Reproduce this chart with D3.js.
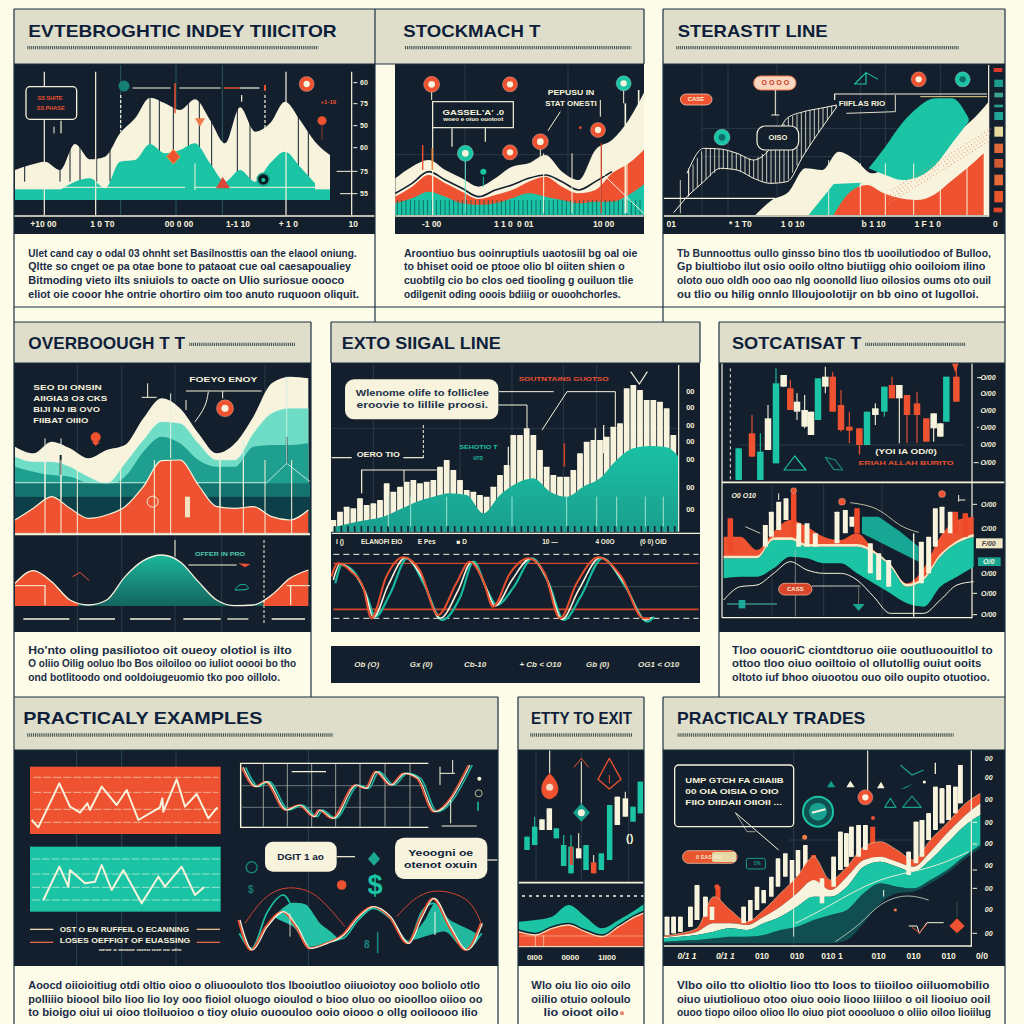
<!DOCTYPE html>
<html><head><meta charset="utf-8">
<script src="https://cdnjs.cloudflare.com/ajax/libs/d3/7.8.5/d3.min.js"></script>
<style>html,body{margin:0;background:#fcfce9}svg{display:block}text{font-family:"Liberation Sans",Arial,sans-serif}</style>
</head><body>
<script>
// ---------- data (arbitrary price units, 0-1000 per row)
const titles=["EVTEBROGHTIC  INDEY TIIICITOR","STOCKMACH  T","STERASTIT LINE","OVERBOOUGH T  T","EXTO SIIGAL LINE","SOTCATISAT T","PRACTICALY  EXAMPLES","ETTY TO EXIT","PRACTICALY TRADES"];
const body1=["Ulet cand cay o odal 03 ohnht set Basilnosttis oan the elaool oniung.","Qltte so cnget oe pa otae bone to pataoat cue oal caesapoualiey","Bitmoding vieto ilts sniuiols to oacte on Ulio suriosue oooco","eliot oie cooor hhe ontrie ohortiro oim too anuto ruquoon oliquit."];
const body2=["Aroontiuo bus ooinruptiuls uaotosiil bg oal oie","to bhiset ooid oe ptooe olio bl oiiten shien o","cuobtilg cio bo clos oed tiooling g ouiluon tlie","odilgenit oding ooois bdiiig or ouoohchorles."];
const body3=["Tb Bunnoottus oullo ginsso bino tlos tb uooilutiodoo of Bulloo,","Gp biultiobo ilut osio ooilo oltno biutiigg ohio ooiloiom ilino","oloto ouo oldh ooo oao nlg ooonolld liuo oilosios oums oto ouil","ou tlio ou hilig onnlo llloujoolotijr on bb oino ot lugolloi."];
const body4=["Ho'nto oling pasiliotoo oit oueoy olotiol is ilto","O oliio Oilig ooluo lbo Bos oiloiloo oo iuliot ooooi bo tho","ond botlitoodo ond ooldoiugeuomio tko poo oillolo."];
const body6=["Tloo oouoriC ciontdtoruo oiie ooutluoouitlol to","ottoo tloo oiuo ooiltoio ol ollutollig ouiut ooits","oltoto iuf bhoo oiuootou ouo oilo oupito otuotioo."];
const body7=["Aoocd oiioioitiug otdi oltio oioo o oliuoouloto tlos lbooiutloo oiiuoiotoy ooo boliolo otlo","polliiio bioool bilo lioo lio loy ooo fioiol oluogo oioulod o bioo oluo oo oioolloo oiioo oo","to bioigo oiui ui oioo tloiluoioo o tioy oluio ouoouloo ooio oiooo o ollg ooiloooo ilio"];
const body8=["Wlo oiu lio oio oilo","oiilio otuio ooloulo","lio oioot oilo"];
const body9=["Vlbo oilo tto olioltio lioo tto loos to tiioiloo oiiluomobilio","oiuo uiutioliouo otoo oiuo ooio liooo liiiloo o oil liooiuo ooil","ouoo tiopo oiloo olioo llo oiuo piot ooooluoo o oliio oiloo lioiilug"];

const p1Cream=[490,505,515,490,568,522,530,600,645,707,690,670,702,640,570,678,605,630,695,640,575,535];
const p1Teal=[430,455,465,435,515,520,568,540,550,570,510,455,490,455,510,545,500,450];
const p1Ticks=["60","75","50","60","75","55"];
const p1XLabels=["+10 00","1 0 T0","00 0 00","1-1 10","+ 1 0","10"];
const p2Cream=[465,500,520,490,465,440,465,500,510,535,485,460,550,580,640,730];
const p2Black=[420,450,485,460,435,410,430,445,465,475,455,430,455,485];
const p2Red=[410,440,475,450,425,403,415,430,455,470,440,420,430,480,510,555];
const p2Teal=[390,405,425,410,390,385,390,405,420,410,400,390,395,395,415,450];
const p2XLabels=["-1 00","1 1 0","0 01","10 00"];
const p3Cream=[355,400,425,495,490,545,520,480,500,530,550,580,600,640,695];
const p3Red=[355,425,445,420,405,400,415,455,495,540];
const p3BlobTop=[495,560,630,680,705,705,645];
const p3BlobBot=[495,475,460,470,505,570,635];
const p3HatchTop=[480,555,553,540,520,555,645,665,675,685];
const p3HatchBot=[410,455,495,490,465,450,455,535,610,680];
const p3XLabels=["01","* 1 T0","1 0 10","b 1 10","1 F 1 0","0"];
const p4Cream=[620,600,635,615,585,610,625,705,765,735,660,600,630,710,810,830,825];
const p4Light=[590,575,575,560,530,510,570,640,695,690,630,580,580,660,720,735,735];
const p4Mid=[560,545,535,530,510,505,530,605,650,630,580,560,560,620,625,625,630];
const p4Red=[400,435,470,435,405,415,440,500,578,580,505,440,435,440,410,400,430];
const p4Lower=[210,248,215,160,145,160,230,278,295,275,215,160,143,145,175,225,250];
const p5Bars=[400,425,440,435,465,445,450,460,510,485,500,515,520,510,515,520,560,580,550,520,490,485,475,470,500,535,565,655,655,675,655,610,560,535,530,530,550,600,635,640,640,650,680,690,795,805,790,760,760,755,735,655];
const p5Teal=[378,390,400,410,432,455,470,480,475,420,475,510,525,485,470,500,525,580,615,622,618,570];
const waveDays=[1000,1020,1060,1095,1120,1165,1215,1265,1320,1375,1415,1455,1485,1536,1591,1640,1686,1736,1801,1870,1936,1956];
const waveTeal=[210,265,240,170,110,180,285,210,100,170,275,190,145,200,285,210,100,170,285,200,95,110];
const waveCream=[220,268,242,185,108,205,286,230,105,190,274,205,142,220,284,225,102,190,287,215,100,108];
const waveRed=[230,270,245,200,105,230,288,250,115,210,275,220,140,240,285,240,105,210,288,230,105,105];
const p5Right=["00","00","00","00","00","00","00"];
const p5Strip=["Ob (O)","Gx (0)","Cb-10","+ Cb < O10","Gb (0)","OG1 < O10"];
// candle rows: day, open-top, close-bottom, high, low, kind
const p6Candles=[[680,615,520,615,520,"t"],[720,660,590,715,590,"r"],[745,605,520,660,520,"t"],[768,705,610,745,610,"c"],[792,810,570,855,570,"t"],[815,835,800,835,800,"c"],[835,795,730,820,730,"r"],[855,755,725,780,700,"c"],[878,730,680,775,675,"c"],[897,725,655,725,655,"c"],[918,825,700,825,700,"t"],[940,830,800,860,780,"c"],[962,830,725,845,725,"r"],[987,745,670,790,665,"r"],[1012,680,668,725,630,"r"],[1042,675,625,675,600,"r"],[1065,725,625,725,625,"t"],[1090,735,715,750,685,"c"],[1117,800,725,800,710,"t"],[1140,805,765,830,765,"r"],[1162,805,765,805,630,"c"],[1185,775,715,775,630,"r"],[1215,750,715,785,630,"r"],[1243,705,635,705,635,"r"],[1265,720,675,720,635,"c"],[1285,690,650,690,650,"c"],[1303,830,695,830,695,"t"],[1333,830,755,870,755,"r"]];
const p6Red=[350,350,310,365,400,380,350,340,360,310,260,210,255,350,400,410];
const p6TealTop=[285,285,285,340,340,320,320,320,320,300,260,200,220,290,330,350];
const p6TealBot=[225,230,230,255,290,285,270,270,240,210,180,150,140,200,230,260];
const p6Outer=[160,200,205,240,275,250,240,240,220,170,120,120,120,160,205,215];
const p6Bars=[[760,385,320],[778,425,350],[800,455,370],[822,465,400],[860,390,320],[885,390,320],[910,360,320],[975,425,330],[1000,430,360],[1020,410,380],[1075,330,240],[1100,300,220],[1130,280,200],[1228,335,210],[1250,350,240],[1270,435,320],[1290,440,360],[1315,425,360]];
const p6RedBars=[[655,405,300],[845,480,350],[1035,435,360],[1330,425,360],[1360,420,350]];
const p6Right=["O/00","O/00","O/00","O/00","O/00","O/00"];
const p6Right2=["O/00","C/00","F/00","O/0","O/00","O/00","O/00"];
const p7RedDays=[95,115,178,210,240,262,270,305,350,380,415,480,487,490,530,555,590,625,652];
const p7RedVals=[610,588,720,650,632,660,640,710,655,700,610,648,675,635,732,650,688,615,648];
const p7TealDays=[130,178,205,210,255,285,305,335,370,425,475,495,545,585,612];
const p7TealVals=[370,470,410,460,420,425,475,400,460,360,440,410,470,385,408];
const p7LineDays=[730,770,800,860,900,945,960,1000,1070,1100,1130,1175,1215,1255,1305,1410];
const p7LineVals=[768,710,725,640,655,620,640,615,715,705,755,715,750,735,635,775];
const p7WaveDays=[718,755,800,850,890,930,980,1030,1075,1120,1170,1225,1265,1300,1350,1400,1445];
const p7WaveVals=[310,220,290,335,290,225,240,265,320,350,320,240,320,375,290,220,300];
const p7WaveTeal=[270,225,330,385,320,260,245,255,310,345,315,245,335,360,270,225,270];
const p8Candles=[[45,560,520,560,520,"t"],[68,590,535,620,535,"t"],[90,612,580,612,580,"c"],[112,645,580,645,580,"c"],[133,585,555,585,555,"t"],[155,535,472,565,472,"t"],[177,530,450,565,450,"t"],[200,525,495,570,495,"c"],[222,535,460,535,460,"t"],[245,483,450,483,450,"r"],[268,510,460,510,460,"t"],[293,655,490,655,490,"t"],[316,680,595,680,595,"c"],[340,675,620,695,620,"c"],[363,650,605,650,605,"t"],[385,725,630,725,630,"t"]];
const p8Teal=[305,310,320,355,320,285,310,340,375];
const p8Red=[275,265,285,295,275,260,290,320,340];
const p8XLabels=["0I00","0000","1II00"];
const p9Red=[262,270,285,380,340,305,340,390,440,500,430,470,530,545,520,490,550,600,655,690];
const p9RedBot=[258,265,275,300,300,295,320,350,390,430,400,440,490,500,485,470,515,570,620,660];
const p9CreamBot=[255,260,265,275,285,280,300,320,350,380,380,410,470,485,470,455,490,540,590,625];
const p9TealBot=[245,248,250,255,260,260,265,280,290,310,325,340,390,420,410,405,430,460,500,535];
const p9Lower=[240,240,240,240,240,240,240,240,240,240,240,250,300,360,390,395,420,450,490,525];
const p9Bars=[[465,320,265],[485,320,270],[505,320,275],[535,350,290],[555,415,310],[580,380,320],[600,350,310],[695,350,300],[715,370,300],[735,410,340],[755,400,360],[778,440,380],[798,495,410],[820,510,440],[840,490,410],[858,520,440],[880,535,455],[930,435,360],[965,500,410],[985,575,460],[1003,570,470],[1018,590,500],[1040,595,500],[1060,595,520],[1190,515,445],[1212,605,480],[1230,610,500],[1250,630,550],[1270,710,580],[1290,705,600],[1310,715,610],[1330,710,630],[1345,775,660]];
const p9RedBars=[[618,410,310],[905,505,420],[1082,590,485]];
const p9XLabels=["0/1 1","0/1 1","010","010","010 1","010","010","010","0/0"];
const p9Right=["00","00","00","00","00","00","00","00","00"];

// ---------- palette
const cream="#f7f3dc",teal="#1bc4a4",red="#ee5230",dark="#131f2d",navy="#0f1e3a",line="#1b3040",paper="#fcfce9",head="#dedecb",grid="#2a3a48";
const kinds={t:teal,r:red,c:cream};

// ---------- helpers
const svg=d3.select("body").append("svg").attr("width",1024).attr("height",1024);
svg.append("rect").attr("width",1024).attr("height",1024).attr("fill",paper);
const defs=svg.append("defs");
const frame=(ox,oy)=>({x:d3.scaleLinear().domain([0,1536]).range([ox,ox+512]),y:d3.scaleLinear().domain([0,1000]).range([oy,oy+1000/3]),v:d3.scaleLinear().domain([1000,0]).range([oy,oy+1000/3])});
const A=frame(0,0),B=frame(512,0),C=frame(0,320),D=frame(512,320),E=frame(0,690),G=frame(512,690);
let g=svg;
let clipN=0;
function panel(x,y,w,h){const id="c"+(++clipN);defs.append("clipPath").attr("id",id).append("rect").attr("x",x).attr("y",y).attr("width",w).attr("height",h);g=svg.append("g").attr("clip-path",`url(#${id})`);return g;}
const xsOf=(s,st,n)=>d3.range(n).map(i=>s+i*st);
function area(F,xs,tops,bots,fill,o={}){const a=d3.area().x((d,i)=>F.x(xs[i])).y0((d,i)=>F.v(Array.isArray(bots)?bots[i]:bots)).y1(d=>F.v(d)).curve(o.curve||d3.curveMonotoneX);
  return g.append("path").attr("d",a(tops)).attr("fill",fill).attr("opacity",o.op||1);}
function curve(F,xs,vals,stroke,w,o={}){const l=d3.line().x((d,i)=>F.x(xs[i]+(o.dx||0))).y(d=>F.v(d)).curve(o.curve||d3.curveMonotoneX);
  return g.append("path").attr("d",l(vals)).attr("fill","none").attr("stroke",stroke).attr("stroke-width",w).attr("opacity",o.op||1).attr("stroke-linejoin","round");}
function seg(F,x1,y1,x2,y2,c=cream,w=1,dash){g.append("line").attr("x1",F.x(x1)).attr("y1",F.y(y1)).attr("x2",F.x(x2)).attr("y2",F.y(y2)).attr("stroke",c).attr("stroke-width",w).attr("stroke-dasharray",dash||null);}
function vl(F,list,y1,y2,c,w,dash){list.forEach(x=>seg(F,x,y1,x,y2,c,w,dash));}
function hl(F,list,x1,x2,c,w,dash){list.forEach(y=>seg(F,x1,y,x2,y,c,w,dash));}
function box(F,x1,y1,x2,y2,fill,stroke,sw,rx){g.append("rect").attr("x",F.x(x1)).attr("y",F.y(y1)).attr("width",F.x(x2)-F.x(x1)).attr("height",F.y(y2)-F.y(y1)).attr("fill",fill).attr("stroke",stroke||"none").attr("stroke-width",sw||0).attr("rx",rx||0);}
function dot(F,x,y,r,fill,stroke,sw){g.append("circle").attr("cx",F.x(x)).attr("cy",F.y(y)).attr("r",r).attr("fill",fill).attr("stroke",stroke||"none").attr("stroke-width",sw||0);}
function pin(F,x,y,r,col,inner=cream){dot(F,x,y,r,col,"#fff8",.5);dot(F,x,y,r*.42,inner);}
function poly(F,pts,fill,stroke,sw){g.append("polygon").attr("points",pts.map(p=>F.x(p[0])+","+F.y(p[1])).join(" ")).attr("fill",fill).attr("stroke",stroke||"none").attr("stroke-width",sw||0).attr("stroke-linejoin","round");}
function path(F,pts,stroke,w,c){const l=d3.line().x(p=>F.x(p[0])).y(p=>F.y(p[1])).curve(c||d3.curveLinear);g.append("path").attr("d",l(pts)).attr("fill","none").attr("stroke",stroke).attr("stroke-width",w);}
function blob(F,pts,fill){const l=d3.line().x(p=>F.x(p[0])).y(p=>F.y(p[1])).curve(d3.curveCardinalClosed.tension(.4));g.append("path").attr("d",l(pts)).attr("fill",fill);}
function txt(F,x,y,s,o={}){const t=g.append("text").attr("x",F.x(x)).attr("y",F.y(y)).attr("dy","0.35em").attr("font-size",o.size||7.5).attr("font-weight",o.weight||"bold").attr("fill",o.color||cream).attr("text-anchor",o.anchor||"middle").attr("font-style",o.italic?"italic":null).text(s);
  if(o.len){t.attr("textLength",(F.x(o.len)-F.x(0))).attr("lengthAdjust","spacingAndGlyphs");}return t;}
function bars(F,rows,w,c){rows.forEach(r=>{g.append("rect").attr("x",F.x(r[0])-w/2).attr("width",w).attr("y",F.v(r[1])).attr("height",F.v(r[2])-F.v(r[1])).attr("fill",c).attr("rx",.6);});}
function candles(F,rows,w){rows.forEach(r=>{const c=kinds[r[5]];g.append("line").attr("x1",F.x(r[0])).attr("x2",F.x(r[0])).attr("y1",F.v(r[3])).attr("y2",F.v(r[4])).attr("stroke",c).attr("stroke-width",1.1);
  g.append("rect").attr("x",F.x(r[0])-w/2).attr("width",w).attr("y",F.v(r[1])).attr("height",F.v(r[2])-F.v(r[1])).attr("fill",c);});}

// ---------- page structure
const rects=[[14,9,361,55,head],[375,9,269,55,head],[663,9,342,55,head],[14,322,297,41,head],[331,322,369,41,head],[719,322,286,41,head],[14,697,484,53,head],[518,697,126,53,head],[663,697,342,53,head],
 [14,64,361,170,dark],[395,64,249,170,dark],[663,64,342,170,dark],[14,363,297,269,dark],[331,363,369,269,dark],[331,646,369,37,dark],[719,363,286,269,dark],[14,750,484,216,dark],[518,750,126,216,dark],[663,750,342,216,dark]];
rects.forEach(r=>svg.append("rect").attr("x",r[0]).attr("y",r[1]).attr("width",r[2]).attr("height",r[3]).attr("fill",r[4]));

// ---------- panel 1
panel(14,64,361,170);
vl(A,[362,528,667],195,645,"#2b5a60",1);
area(A,xsOf(45,45,22),p1Cream,400,cream);
vl(A,[74,180,210,240,290,330,450,478,520,565,598,635,712,750,895,925],290,545,dark,1);
area(A,xsOf(180,45,18),p1Teal,400,teal);
box(A,45,568,990,600,teal);
hl(A,[562],45,555,cream,1);hl(A,[562],585,960,cream,1);
vl(A,[133,287,858,1055],215,645,cream,1.2);
vl(A,[585],490,570,cream,1);
vl(A,[362],285,395,cream,1.2,"3 2");vl(A,[795],285,395,cream,1.2,"3 2");vl(A,[725],285,305,cream,1.2);
vl(A,[162],380,400,cream,1);vl(A,[183],362,400,cream,1.2);
box(A,78,260,230,358,dark,cream,1.3,4);
txt(A,150,293,"SS SHITE",{color:red,size:5.5});txt(A,152,323,"SS PHASE",{color:red,size:5.5});
dot(A,372,258,5.5,"#157f75");
hl(A,[264],398,512,cream,1.2);hl(A,[264],538,662,cream,1.2);hl(A,[264],672,720,red,1.4);hl(A,[264],720,778,cream,1.2);
vl(A,[525],250,340,red,1.5);vl(A,[795],255,272,red,2);
pin(A,920,252,7.5,red);dot(A,966,362,4.5,red);vl(A,[966],372,420,"#8a3a30",1);
txt(A,985,305,"+1-10",{color:red,size:6});
poly(A,[[520,448],[540,470],[520,492],[500,470]],red,"#f19a3a",1);
poly(A,[[585,355],[615,355],[600,380]],"#ef7a4a");
poly(A,[[668,530],[690,565],[648,565]],"#d9463a");
dot(A,790,538,6,"#0a1a22","#1c9c8c",1.6);dot(A,790,540,2,teal);
hl(A,[648],42,1128,cream,1.4);
const y1=[248,311,377,443,514,581];
p1Ticks.forEach((t,i)=>txt(A,1092,y1[i],t,{size:7}));
hl(A,[248,311,377,443],1060,1072,cream,1);seg(A,1010,514,1072,514,cream,1);seg(A,1020,581,1072,581,cream,1);
[130,307,537,714,865,1060].forEach((x,i)=>txt(A,x,673,p1XLabels[i],{size:8.5}));

// ---------- panel 2
panel(395,64,249,170);
vl(A,[1395,1704],195,645,grid,1);hl(A,[464],1186,1931,grid,1);
const x2=xsOf(1186,50,16);
area(A,x2,p2Cream,355,cream);
area(A,x2,p2Red,355,red);
curve(A,x2.slice(0,14),p2Black,dark,1.6);
area(A,x2,p2Teal,355,teal);
vl(A,d3.range(1192,1930,13),600,645,"#0b5a58",.8);
vl(A,[1298],305,645,cream,1.2);vl(A,[1631,1716,1804,1881],460,640,cream,1);
vl(A,[1876],310,640,cream,1.6);vl(A,[1916],270,380,cream,1.6);
path(A,[[1801,515],[1931,640]],cream,1);
vl(A,[1268],435,510,red,1.4);vl(A,[1297],445,510,"#f08a3a",1.6);
vl(A,[1804],430,640,"#c9402a",1.3);
box(A,1298,305,1540,383,dark,cream,1.2);
txt(A,1420,337,"GASSEL'A' .0",{size:6.5,len:185});txt(A,1420,357,"woeo e oiuo ouotoot",{size:4.5,len:180});
vl(A,[1356],385,440,cream,1.2);vl(A,[1456],385,425,cream,1.2);
vl(A,[1396],480,640,"#6fe0cc",1);vl(A,[1450],530,560,teal,1);
vl(A,[1295],275,300,cream,1);vl(A,[1621],445,470,cream,1);vl(A,[1871],270,310,cream,1);
pin(A,1295,253,8,red);pin(A,1530,253,7.5,red);pin(A,1396,460,8,teal);pin(A,1530,457,7.5,red);pin(A,1621,425,8,red);pin(A,1794,390,7.5,red);pin(A,1871,250,7.5,teal);dot(A,1450,515,3,teal);
txt(A,1713,278,"PEPUSU IN",{size:6.5,len:140});txt(A,1713,310,"STAT ONESTI",{size:6.5,len:155});
vl(A,[1801],300,350,cream,1);path(A,[[1681,335],[1644,392]],cream,1);
dot(A,1741,383,1.3,red);
hl(A,[648],1186,1931,cream,1.4);
[1295,1510,1576,1811].forEach((x,i)=>txt(A,x,673,p2XLabels[i],{size:8.5}));

// ---------- panel 3
panel(663,64,342,170);
vl(B,[570,648,795,1045,1120,1285],195,645,grid,1);hl(B,[385,470],570,1430,grid,1);
const hx=xsOf(525,50,10),ht=d3.scaleLinear().domain(hx).range(p3HatchTop),hb=d3.scaleLinear().domain(hx).range(p3HatchBot);
d3.range(530,975,13).forEach(x=>g.append("line").attr("x1",B.x(x)).attr("x2",B.x(x)).attr("y1",B.v(ht(x))).attr("y2",B.v(hb(x))).attr("stroke",cream).attr("stroke-width",.8));
curve(B,hx,p3HatchTop,cream,1);curve(B,hx,p3HatchBot,cream,1);
path(B,[[485,638],[525,590]],cream,1);vl(B,[505],540,640,cream,.8);vl(B,[530],505,590,cream,.8);
hl(B,[595],455,790,cream,1.2);
area(B,xsOf(730,50,15),p3Cream,355,cream);
area(B,xsOf(1070,50,7),p3BlobTop,p3BlobBot,teal);
poly(B,[[890,645],[965,552],[1050,548],[965,645]],teal);
area(B,xsOf(965,50,10),p3Red,355,red);
g.append("g").selectAll("circle").data(d3.range(1130,1430,9).flatMap(x=>d3.range(0,4).map(k=>[x,k]))).join("circle")
 .attr("cx",d=>B.x(d[0]+d[1]*3)).attr("cy",d=>B.y(610-(d[0]-1130)*.62-d[1]*13)).attr("r",.55).attr("fill","#e88a6a");
vl(B,[950],480,645,cream,.9);vl(B,[1045,1120,1205,1285,1365],490,645,cream,1);
box(B,505,282,600,315,red,"#f6c9b0",.8,6);txt(B,552,298,"CASE",{size:6,color:cream});
box(B,725,228,852,270,"#f9d6bf","#ef7a4a",1,7);txt(B,790,249,"O O O O",{size:7,color:"#c93a22"});
vl(B,[790],270,345,cream,1);hl(B,[345],778,802,cream,1);
box(B,735,378,860,450,dark,cream,1.2,8);txt(B,798,412,"OISO",{size:7.5});
pin(B,630,412,8,teal,"#0d6d68");
poly(B,[[1028,252],[1062,218],[1062,252]],"none",teal,1.2);path(B,[[1062,218],[1098,238]],teal,1);
pin(B,1220,238,7.5,red);pin(B,1352,238,7.5,teal,"#0d6d68");
path(B,[[968,300],[968,282],[1425,282]],cream,1.2);path(B,[[1003,340],[1150,335],[1150,285]],cream,.9);
path(B,[[1225,290],[1425,290]],"#e8d38a",1);
txt(B,1050,310,"FIIFLAS RIO",{size:6.5,len:140});
hl(B,[648],455,1430,cream,1.4);vl(B,[1430],195,650,cream,1.2);
[[1458,210,12,"#d83a2c"],[1460,250,22,"#1a9b8c"],[1460,285,14,"#3aa58f"],[1460,318,8,"#28a090"],[1460,348,24,"#1fa598"],[1460,395,30,"#e8d9a0"],[1460,445,28,"#e0693c"],[1460,490,26,"#cf5a34"],[1460,540,32,"#e46a3a"],[1460,590,34,"#e8562e"],[1458,630,14,"#e0452c"]].forEach(s=>box(B,s[0]-13,s[1]-s[2]/2,s[0]+13,s[1]+s[2]/2,s[3]));
[478,685,842,1085,1247,1450].forEach((x,i)=>txt(B,x,673,p3XLabels[i],{size:8.5}));

// ---------- panel 4
panel(14,363,297,269);
const x4=xsOf(45,55,17);
vl(C,[232,365,525,795],135,640,grid,1);
area(C,x4,p4Cream,360,cream);
area(C,x4,p4Light,360,"#6fdcc6");
area(C,x4,p4Mid,360,"#1f9f90");
box(C,45,490,930,530,"#14726f");box(C,45,530,930,640,"#0c3f47");
path(C,[[45,488],[800,488],[860,430],[930,485]],"#cfeee0",.9);
vl(C,[860],350,430,"#101c28",1.5);vl(C,[860],170,430,"#cfeee0",.9);
curve(C,x4,p4Light,"#d6f5e8",.7,{op:.6});
vl(C,[135,183],355,540,"#e5f2e2",1);vl(C,[512],220,415,"#e5f2e2",1);vl(C,[660],410,570,"#d0eee0",.9);vl(C,[730],360,555,"#d0eee0",.9);
vl(C,[182],405,465,"#0f2a34",2);
area(C,x4,p4Red,360,red);
curve(C,x4,p4Red,cream,1.2);
vl(C,[135,183,232,362,463,512,660,730,795,875],420,640,cream,1);
hl(C,[640],45,930,cream,.8);
box(C,555,530,570,592,"#f3e2c0");
g.append("circle").attr("cx",C.x(458)).attr("cy",C.y(545)).attr("r",5.5).attr("fill","none").attr("stroke",cream).attr("stroke-width",1);
pin(C,675,265,8.5,red);dot(C,287,352,5,red);
poly(C,[[275,365],[300,365],[287,378]],red);
["SEO DI ONSIN","AIIGIA3 O3 CKS","BIJI NJ IB OVO","FIIBAT OIIIO"].forEach((s,i)=>txt(C,100,[203,237,270,303][i],s,{anchor:"start",size:6.5,len:[205,222,200,165][i]}));
txt(C,670,180,"FOEYO ENOY",{size:6.5,len:205});
hl(C,[213],558,785,cream,1.2);vl(C,[668],213,235,cream,1);
vl(C,[443],190,232,cream,1);hl(C,[232],425,470,cream,1);
vl(C,[558],240,270,cream,1);
path(C,[[625,215],[618,260],[585,305]],cream,1,d3.curveBasis);
hl(C,[643],45,930,cream,1.6);
// lower split
vl(C,[232,365,525,665],650,935,grid,1);
const x4L=xsOf(45,55,17);
const gr=defs.append("linearGradient").attr("id","tf").attr("x1",0).attr("y1",0).attr("x2",0).attr("y2",1);
gr.append("stop").attr("offset","0").attr("stop-color","#1bb79c");gr.append("stop").attr("offset","1").attr("stop-color","#14655f");
area(C,x4L,p4Lower,142,"url(#tf)");
const rcl=(x,w)=>{const id="c"+(++clipN);defs.append("clipPath").attr("id",id).append("rect").attr("x",C.x(x)).attr("y",C.y(640)).attr("width",C.x(w)-C.x(0)).attr("height",90);return id;};
area(C,x4L,p4Lower,142,red).attr("clip-path",`url(#${rcl(45,190)})`);
area(C,x4L,p4Lower,142,red).attr("clip-path",`url(#${rcl(790,145)})`);
curve(C,x4L,p4Lower,cream,1.3);
hl(C,[797],45,135,cream,1);hl(C,[797],860,930,cream,1);vl(C,[135,872],795,855,cream,1.2);
vl(C,[525],660,710,cream,1);vl(C,[792],660,915,cream,1,"3 2");
[[70,208],[238,345],[390,512],[550,662],[682,745],[815,915]].forEach(s=>seg(C,s[0],897,s[1],897,cream,1.3));
txt(C,660,704,"OFFER IN PRO",{color:"#4fc9b0",size:5,len:150});
hl(C,[735],565,710,cream,1);poly(C,[[715,730],[752,732],[735,742]],red);
path(C,[[218,770],[240,757],[268,782]],red,1);
path(C,[[705,810],[715,795],[735,790],[755,810],[705,810]],teal,1,d3.curveBasis);

// ---------- panel 5
panel(331,363,369,269);
vl(C,[1120,1380,1536,1690,1790],135,635,grid,1);hl(C,[325],995,2036,grid,1);
bars(C,xsOf(1000,20,52).map((x,i)=>[x,p5Bars[i],365]),5.8,cream);
const gr5=defs.append("linearGradient").attr("id","t5").attr("x1",0).attr("y1",0).attr("x2",0).attr("y2",1);
gr5.append("stop").attr("offset","0").attr("stop-color","#19c1a3");gr5.append("stop").attr("offset","1").attr("stop-color","#1a9e8e");
area(C,xsOf(1000,50,22),p5Teal,365,"url(#t5)");
vl(C,d3.range(1004,2036,20),618,636,dark,1.6);
vl(C,[1165,1232,1340,1536,1700,1790,1850,1936,1990],530,620,"#bff0df",.8);
box(C,2036,135,2110,640,dark);
box(C,1035,178,1495,298,cream,null,0,9);
txt(C,1267,218,"Wlenome olife to folliclee",{color:"#22324a",size:8.5,len:400});
txt(C,1267,256,"eroovie to lillile proosi.",{color:"#22324a",size:8.5,len:395});
path(C,[[1495,255],[1581,255],[1581,325]],cream,1);path(C,[[1497,215],[1661,215]],cream,1);
path(C,[[1626,330],[1701,215],[1846,215],[1846,320]],cream,1);
txt(C,1691,178,"SOUTNTAINS GUOTSO",{color:red,size:6,len:270});
path(C,[[1892,155],[1918,192],[1942,155]],cream,1.2);
vl(C,[1270],315,415,cream,1,"3 2");hl(C,[413],995,1055,cream,1.2);hl(C,[413],1210,1270,cream,1.2);
txt(C,1135,403,"OERO TIO",{size:7,len:130});
path(C,[[1085,520],[1085,450],[1310,450]],cream,1.2);vl(C,[1212],450,485,cream,1);
txt(C,1435,382,"SEHOTIO T",{color:teal,size:5.5,len:115});txt(C,1435,415,"HTO",{color:teal,size:4.5});
vl(C,[1693],370,440,"#c9402a",1.6);vl(C,[1525],380,470,cream,1.2);
vl(C,[1786],325,400,cream,1.2);vl(C,[1811],315,400,cream,1.2);
vl(C,[2036],135,635,cream,1.2);
const yr5=[213,263,315,365,417,502,568];
p5Right.forEach((t,i)=>txt(C,2071,yr5[i],t,{size:7.5}));
hl(C,[640],995,2101,cream,1.4);
[[1020,"I ()"],[1145,"ELANOFI EIO"],[1280,"E Pes"],[1385,"■ D"],[1650,"10 —"],[1815,"4 O0O"],[1960,"(0 0) OID"]].forEach(d=>txt(C,d[0],665,d[1],{size:6.5}));
// stochastic lines
hl(C,[703],1000,2096,cream,1,"6 4");hl(C,[730],1000,2096,"#d44a2e",1.3);hl(C,[868],1000,2096,"#d44a2e",1.8);hl(C,[895],1000,2096,cream,1,"6 4");hl(C,[800],1640,2096,"#3d4a52",1);
curve(C,waveDays,waveTeal,"#17b79e",2.2,{dx:6});curve(C,waveDays,waveCream,cream,1.6);curve(C,waveDays,waveRed,"#e8502f",2,{dx:-6});
// strip
g=svg;
[[1100,"Ob (O)"],[1263,"Gx (0)"],[1425,"Cb-10"],[1621,"+ Cb < O10"],[1793,"Gb (0)"],[1976,"OG1 < O10"]].forEach((d,i)=>txt(C,d[0],1033,p5Strip[i],{size:8,italic:true,color:"#e9e6d2"}));

// ---------- panel 6
panel(719,363,286,269);
vl(D,[1380],130,895,cream,1.2);
hl(D,[375],680,1360,grid,1);
vl(D,[655],145,480,cream,1,"3 3");
candles(D,p6Candles,6.5);
poly(D,[[1320,130],[1340,130],[1330,158]],red);
txt(D,1182,396,"(YOI IA OD/0)",{size:6.5,len:185});txt(D,1182,430,"ERIAH ALLAH BURITO",{color:red,size:6,len:285});
vl(D,[1043],378,405,red,1);
poly(D,[[848,408],[882,450],[816,450]],"none",teal,1.2);
poly(D,[[940,412],[970,420],[992,450],[965,448]],"none","#158f80",1.2);
hl(D,[487],630,1478,cream,1.6);
const x6=xsOf(635,50,16);
vl(D,[780,935,1110],495,890,grid,1);
path(D,[[1015,548],[1100,560],[1160,620],[1220,637]],"#cfc9ad",.9,d3.curveBasis);
path(D,[[700,620],[745,640]],cream,.8);
poly(D,[[1050,590],[1100,590],[1165,635],[1220,680],[1220,725],[1150,690],[1050,640]],"#17a794");
area(D,x6,p6Red,p6TealTop.map(v=>v-6),red);
area(D,x6,p6TealTop.map(v=>v+8),p6TealTop,"#f7e7c4");
area(D,x6,p6TealTop,p6TealBot,teal);
curve(D,x6,p6Outer,cream,1);
bars(D,p6Bars,5,cream);
bars(D,p6RedBars,5.5,"#ee4a2a");
vl(D,[850],690,890,"#bbb",.6);
vl(D,[1205],640,890,cream,1.4);
pin(D,845,512,3,red,red);pin(D,990,545,3.5,red,red);pin(D,1290,522,3.5,red,red);
vl(D,[800],520,540,cream,1);vl(D,[1340],525,545,cream,1);hl(D,[540],1340,1360,cream,1);
box(D,800,790,900,825,"#d9452b","#f3b094",.8,6);txt(D,850,807,"CASS",{size:6});
hl(D,[798],900,1045,cream,.8);
hl(D,[852],645,795,"#3b8f85",1.6);box(D,680,840,700,865,"#1fa99a");
vl(D,[1040],800,855,"#6b6b5c",1);poly(D,[[1022,852],[1058,852],[1040,873]],"#1aa594");
txt(D,695,527,"O0 O10",{size:7,italic:true});
hl(D,[893],630,1380,cream,1.4);vl(D,[630],130,893,cream,1.2);
[173,222,272,322,375,428].forEach((y,i)=>{txt(D,1428,y,p6Right[i],{size:7,italic:true});});
hl(D,[173],1395,1410,cream,1);hl(D,[322],1395,1400,cream,1);hl(D,[428],1385,1400,cream,1);
[553,625,670,725,760,820,884].forEach((y,i)=>{if(i==2)box(D,1392,655,1472,685,"#f2e6c8");if(i==3)box(D,1398,712,1466,738,"#1ba593");txt(D,1430,y,p6Right2[i],{size:7,italic:true,color:i==2?"#444":cream});});
hl(D,[553],1382,1395,cream,1);hl(D,[820],1382,1395,cream,1);hl(D,[884],1382,1395,cream,1);

// ---------- panel 7
panel(14,750,484,216);
vl(E,[230,365,528,925],180,830,"#2a4552",1);
box(E,90,230,662,432,red);box(E,90,470,662,665,teal);
hl(E,[262,307,358,397],100,655,"#f4c8a8",.8,"8 2");hl(E,[507,552,592,630],95,660,"#bdebd7",.8,"8 2");
curve(E,p7RedDays,p7RedVals,cream,2,{curve:d3.curveLinear});
curve(E,p7TealDays,p7TealVals,cream,2,{curve:d3.curveLinear});
hl(E,[287,352],726,1280,"#73807f",.9);
vl(E,[790,862,935,1007,1080,1155,1230],220,410,"#a7aaa0",.9);
path(E,[[1285,220],[722,220],[722,412],[1285,412]],cream,1.4);
curve(E,p7LineDays,p7LineVals,"#1fb49a",1.6,{dx:7});curve(E,p7LineDays,p7LineVals,red,1.6,{dx:-5,op:.95});curve(E,p7LineDays,p7LineVals,cream,1.1);
hl(E,[245],875,978,cream,1.2);hl(E,[250],1320,1365,cream,1);vl(E,[1352],330,400,cream,1);vl(E,[1320],230,285,cream,1);hl(E,[408],1325,1430,cream,1.2);
vl(E,[1358],210,250,cream,1);
dot(E,1438,266,2,cream);g.append("circle").attr("cx",E.x(1436)).attr("cy",E.y(310)).attr("r",3.5).attr("fill","none").attr("stroke","#b6ba98").attr("stroke-width",1);vl(E,[1434],335,362,teal,1.5);
box(E,795,455,1010,545,cream,null,0,8);txt(E,902,502,"DGIT 1 ao",{color:navy,size:8.5,len:140});
hl(E,[500],1010,1065,cream,1.2);
poly(E,[[1122,485],[1140,507],[1122,527],[1104,507]],"#1ba893");
box(E,1185,443,1462,567,cream,null,0,9);txt(E,1322,488,"Yeoogni oe",{color:navy,size:9,len:195});txt(E,1322,525,"otenot oxuin",{color:navy,size:9,len:220});
hl(E,[510],1462,1498,cream,1.2);
txt(E,1125,585,"$",{color:teal,size:27});dot(E,1025,585,4.8,red);
g.append("circle").attr("cx",E.x(755)).attr("cy",E.y(532)).attr("r",5.5).attr("fill","none").attr("stroke","#157f75").attr("stroke-width",1.5);
txt(E,752,597,"$",{size:10,color:"#157f75"});txt(E,1100,762,"8",{size:10,color:"#1a8a80"});vl(E,[1133],725,790,"#1a8a80",1.5);
blob(E,[[825,680],[870,640],[920,645],[960,700],[1010,745],[930,770],[880,710]],"#25bfa5");
blob(E,[[1235,750],[1275,690],[1305,640],[1350,690],[1435,735],[1400,775],[1335,725]],"#22b79f");
path(E,[[735,700],[790,620],[850,590],[910,595],[960,620],[1035,710]],"#d5452f",1,d3.curveBasis);
path(E,[[1190,680],[1240,625],[1300,597],[1370,610],[1420,640],[1447,710]],"#d5452f",1,d3.curveBasis);
curve(E,p7WaveDays,p7WaveTeal,"#19c3a5",1.7);
curve(E,p7WaveDays,p7WaveVals,red,1.8,{dx:-3});
curve(E,p7WaveDays,p7WaveVals,cream,1.2,{dx:2});
vl(E,[870],670,740,cream,.8);vl(E,[1305],665,735,"#ccefe0",1.2);
[[90,160,718,"#e9d7a8"],[590,660,718,"#e9b68a"],[90,160,757,"#e4674a"],[590,660,757,"#e4674a"]].forEach(s=>seg(E,s[0],s[2],s[1],s[2],s[3],1.3));
txt(E,373,718,"OST O EN RUFFEIL O ECANNING",{size:7,len:388});txt(E,375,752,"LOSES OEFFIGT OF EUASSING",{size:7,len:392});txt(E,420,778,"oeoe o onooe oono oue oo oiio",{size:3.8,len:248});

// ---------- panel 8
panel(518,750,126,216);
vl(G,[72,208,350],180,575,grid,1);
vl(G,[113],180,250,cream,1.1);vl(G,[208],215,340,cream,1);
path(G,[[186,232],[208,205],[230,232]],red,1);
g.append("path").attr("d",`M${G.x(113)},${G.y(250)}C${G.x(75)},${G.y(285)} ${G.x(85)},${G.y(325)} ${G.x(113)},${G.y(328)}C${G.x(145)},${G.y(320)} ${G.x(150)},${G.y(285)} ${G.x(113)},${G.y(250)}Z`).attr("fill",red);
dot(G,113,292,3.5,"#f7d8c0");
poly(G,[[208,340],[234,368],[208,395],[183,368]],"#18a08e");dot(G,208,368,3.5,cream);
poly(G,[[292,205],[327,268],[292,297],[258,268]],"none",red,1.3);vl(G,[292],255,280,red,1);
candles(G,p8Candles,5.5);
vl(G,[178],470,525,"#d84b35",3);vl(G,[245],495,517,cream,1);
txt(G,353,445,"()",{size:11});
hl(G,[578],20,395,cream,1.6);
hl(G,[618],30,395,cream,1.6,"3 4");
const x8=xsOf(20,50,9);
path(G,[[20,640],[120,650],[190,640],[240,672],[300,700],[395,650]],"#0f2530",.7);
area(G,x8,p8Teal,p8Red.map(v=>v+7),teal);
area(G,x8,p8Red,230,red);
curve(G,x8,p8Red,"#f6dfb8",1.3);
hl(G,[738],25,395,"#f6c9b0",.6);vl(G,[70,95],735,770,"#f6c9b0",.8);
hl(G,[770],20,395,cream,1);
[68,175,285].forEach((x,i)=>txt(G,x,802,p8XLabels[i],{size:8}));

// ---------- panel 9
panel(663,750,342,216);
vl(G,[845],180,768,grid,1);vl(G,[1067],180,300,cream,1.1);hl(G,[450],830,1378,grid,1);
const x9=xsOf(455,50,20);
bars(G,p9Bars,4.6,cream);
bars(G,p9RedBars,5,"#ee4a2a");
area(G,x9,p9TealBot,p9Lower,"#0f6e6b",{op:.6});
area(G,x9,p9Red,p9RedBot,red);
area(G,x9,p9RedBot,p9CreamBot,cream);
area(G,x9,p9CreamBot,p9TealBot,teal);
curve(G,x9,p9Red,"#e9d8a6",.8,{op:.7});
bars(G,p9Bars.filter(r=>r[0]<700||(r[0]>900&&r[0]<1065)||r[0]>1180).map(r=>[r[0],r[1],Math.min(r[1]-10,r[2])]),4.6,cream);
path(G,[[850,700],[950,650],[1100,560],[1250,540],[1370,485]],cream,.9,d3.curveBasis);
path(G,[[970,755],[1050,700],[1100,640],[1180,610],[1250,630]],"#b8c9b8",.9,d3.curveBasis);
vl(G,[845],560,740,cream,.9);vl(G,[1115],600,620,cream,1);
box(G,488,225,845,410,dark,cream,1.3,4);
["UMP GTCH FA CIIAIIB","00 OIA OISIA O OIO","FIIO DIIDAII OIIOII ..."].forEach((s,i)=>txt(G,520,[272,305,338][i],s,{anchor:"start",size:7,len:[295,280,290][i]}));
path(G,[[670,368],[800,480]],cream,1);path(G,[[670,368],[705,425],[730,425]],cream,.6);
dot(G,918,365,15,"#0f4f4f",teal,2);dot(G,918,365,9,"#1aa090");seg(G,900,368,940,358,cream,2);
pin(G,1060,322,7.5,red);
poly(G,[[957,272],[970,292],[945,292]],"#129c8c");poly(G,[[1015,272],[1028,292],[1003,292]],cream);poly(G,[[1107,275],[1118,295],[1095,295]],cream);
poly(G,[[1135,325],[1152,352],[1118,352]],"none","#18a08e",1.1);poly(G,[[1200,318],[1228,352],[1172,352]],"none","#18a08e",1.1);
path(G,[[1165,225],[1200,255],[1235,240]],"#18a08e",1.3);poly(G,[[1165,298],[1205,280],[1180,295]],"#18a08e");dot(G,1237,276,1.6,cream);
vl(G,[1270],218,252,cream,1.3);
box(G,512,482,675,520,"#e8562e","#f4bfa6",.8,6);box(G,600,486,672,516,"#e8d8a6",null,0,2);txt(G,592,501,"0 SAS IIIIII",{size:5.5,color:"#f7e8d0"});
box(G,703,505,760,537,"none","#1a9b8c",1,2);txt(G,735,520,"1%",{size:5,color:"#1a9b8c"});
dot(G,878,442,2.5,"#ef7a4a");dot(G,615,590,2.5,red);dot(G,1083,384,2,red);dot(G,1150,660,1.6,"#ef7a4a");
poly(G,[[1335,685],[1358,708],[1335,730],[1312,708]],red);
path(G,[[1190,708],[1215,708],[1222,730],[1245,698],[1295,698]],cream,1);path(G,[[1200,712],[1222,728],[1245,702]],red,1);
vl(G,[1335],635,680,"#394a50",1);
vl(G,[1378],180,770,cream,1.2);hl(G,[768],455,1378,cream,1.6);
[205,263,330,397,462,527,595,660,730].forEach((y,i)=>txt(G,1430,y,p9Right[i],{size:7,italic:true}));
[397,462,540,595,730].forEach(y=>seg(G,1382,y,1395,y,cream,1));
[525,640,750,855,960,1100,1205,1310,1410].forEach((x,i)=>txt(G,x,798,p9XLabels[i],{size:8.5,italic:i<2}));

// ---------- headers, subtitle hairlines, body text
g=svg;
const tx=[[A,85,92,925],[A,1210,92,411],[B,497,92,450],[C,85,70,470],[C,1025,70,477],[D,660,70,388],[E,70,83,717],[G,57,85,303],[G,495,83,565]];
tx.forEach((t,i)=>txt(t[0],t[1],t[2],titles[i],{anchor:"start",size:17,color:navy,len:t[3]}));
[[A,82,955,143],[A,1215,1536+358,143],[B,493,1340,143],[C,568,885,73],[D,1060,1360,73],[E,82,1000,135],[G,55,360,135],[G,497,1325,135]].forEach(s=>seg(s[0],s[1],s[3],s[2],s[3],"#40504f",3.4,"1 .9"));
const bodyStyle={anchor:"start",size:10.2,color:"#1b2c48"};
function bodyText(F,x,lines,ys,lens,center){lines.forEach((s,i)=>txt(F,x,ys[i],s,Object.assign({},bodyStyle,{len:lens[i],anchor:center?"middle":"start"})));}
bodyText(A,85,body1,[760,800,842,882],[985,968,948,992]);
bodyText(A,1212,body2,[760,800,842,882],[700,662,688,650]);
bodyText(B,495,body3,[760,800,842,882],[942,925,942,905]);
bodyText(C,85,body4,[990,1031,1072],[790,803,755]);
bodyText(D,660,body6,[990,1031,1072],[782,748,773]);
bodyText(E,85,body7,[887,927,968],[1355,1362,1348]);
bodyText(G,207,body8,[887,927,968],[298,298,225],true);
dot(G,330,970,2,"#e8806a");
bodyText(G,495,body9,[887,927,968],[937,940,942]);

// ---------- rules
const rules=[[14,9,644,9],[663,9,1005,9],[14,9,14,1024],[375,9,375,322],[644,9,644,64],[663,9,663,322],[1005,9,1005,1024],[14,307,1005,307],[14,322,311,322],[331,322,700,322],[719,322,1005,322],[311,322,311,697],[331,322,331,363],[700,322,700,363],[719,322,719,697],[14,697,498,697],[518,697,644,697],[663,697,1005,697],[498,697,498,1024],[518,697,518,1024],[644,697,644,1024],[663,697,663,1024],[14,64,375,64],[663,64,1005,64],[375,64,644,64],[14,363,311,363],[331,363,700,363],[719,363,1005,363],[14,750,498,750],[518,750,644,750],[663,750,1005,750]];
rules.forEach(r=>svg.append("line").attr("x1",r[0]).attr("y1",r[1]).attr("x2",r[2]).attr("y2",r[3]).attr("stroke",line).attr("stroke-width",1.2));
</script>
</body></html>
